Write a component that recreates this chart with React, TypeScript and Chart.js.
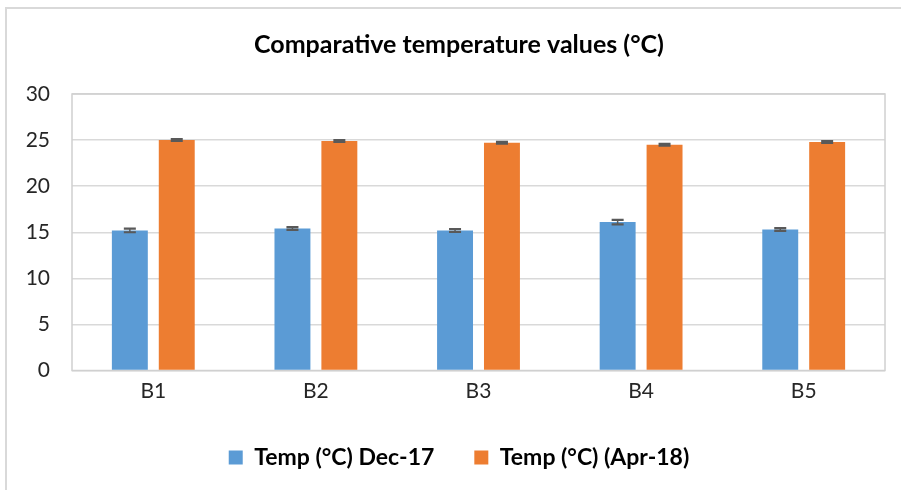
import React, { useEffect, useRef } from "react";
import { Chart, registerables } from "chart.js";

Chart.register(...registerables);

const categories = ["B1", "B2", "B3", "B4", "B5"];
const dec17Values = [15.2, 15.4, 15.2, 16.1, 15.3];
const dec17Errors = [0.2, 0.15, 0.15, 0.25, 0.15];
const apr18Values = [25.0, 24.9, 24.7, 24.5, 24.8];
const apr18Errors = [0.1, 0.1, 0.1, 0.1, 0.1];
const seriesLabels = ["Temp (°C) Dec-17", "Temp (°C) (Apr-18)"];
const yTicks = [0, 5, 10, 15, 20, 25, 30];
const titleText = "Comparative temperature values (°C)";

const FONT = "Lato";

const errorBarPlugin = {
  id: "errorBars",
  afterDatasetsDraw(chart: any) {
    const ctx = chart.ctx;
    const ys = chart.scales.y;
    chart.data.datasets.forEach((ds: any, i: number) => {
      const meta = chart.getDatasetMeta(i);
      const errs: number[] = ds.errors || [];
      meta.data.forEach((bar: any, j: number) => {
        const v = ds.data[j] as number;
        const e = errs[j] || 0;
        const x = bar.x;
        const yT = ys.getPixelForValue(v + e);
        const yB = ys.getPixelForValue(v - e);
        ctx.save();
        ctx.strokeStyle = "#595959";
        ctx.lineWidth = 1.5;
        ctx.beginPath();
        ctx.moveTo(x, yT);
        ctx.lineTo(x, yB);
        ctx.stroke();
        ctx.lineWidth = 2.2;
        ctx.beginPath();
        ctx.moveTo(x - 6, yT);
        ctx.lineTo(x + 6, yT);
        ctx.moveTo(x - 6, yB);
        ctx.lineTo(x + 6, yB);
        ctx.stroke();
        ctx.restore();
      });
    });
  },
};

const plotFramePlugin = {
  id: "plotFrame",
  afterLayout(chart: any) {
    // widen the y-axis label clip region so tick labels can sit in the left margin
    if (chart.scales.y) chart.scales.y.left = 0;
  },
  beforeDatasetsDraw(chart: any) {
    const { ctx, chartArea } = chart;
    ctx.save();
    ctx.strokeStyle = "#d0d0d0";
    ctx.lineWidth = 1.5;
    ctx.strokeRect(chartArea.left, chartArea.top, chartArea.right - chartArea.left, chartArea.bottom - chartArea.top);
    ctx.restore();
  },
};

export default function App() {
  const canvasRef = useRef<HTMLCanvasElement | null>(null);

  useEffect(() => {
    document.body.style.margin = "0";
    const canvas = canvasRef.current;
    if (!canvas) return;
    const chart = new Chart(canvas, {
      type: "bar",
      data: {
        labels: categories,
        datasets: [
          {
            label: seriesLabels[0],
            data: dec17Values,
            errors: dec17Errors,
            backgroundColor: "#5B9BD5",
            barPercentage: 0.766,
            categoryPercentage: 0.577,
          } as any,
          {
            label: seriesLabels[1],
            data: apr18Values,
            errors: apr18Errors,
            backgroundColor: "#ED7D31",
            barPercentage: 0.766,
            categoryPercentage: 0.577,
          } as any,
        ],
      },
      options: {
        responsive: false,
        animation: false,
        layout: { padding: { left: 33, right: 16, top: 20, bottom: 11 } },
        plugins: {
          title: {
            display: true,
            text: titleText,
            color: "#000",
            font: { family: FONT, size: 25, weight: "bold" },
            padding: { top: 10, bottom: 34 },
          },
          legend: {
            position: "bottom",
            labels: {
              boxWidth: 14,
              boxHeight: 14,
              padding: 40,
              color: "#000",
              font: { family: FONT, size: 23, weight: "bold" },
            },
          },
          tooltip: { enabled: false },
        },
        scales: {
          x: {
            grid: { display: false },
            border: { display: false },
            ticks: { color: "#262626", font: { family: FONT, size: 21 }, padding: 0 },
            afterFit: (s: any) => {
              s.height = 35.5;
            },
          },
          y: {
            min: 0,
            max: 30,
            grid: { color: "#d9d9d9", lineWidth: 1.5, drawTicks: false },
            border: { display: false },
            afterBuildTicks: (s: any) => {
              s.ticks = yTicks.map((v) => ({ value: v }));
            },
            ticks: { color: "#262626", font: { family: FONT, size: 21 }, padding: 22 },
            afterFit: (s: any) => {
              s.width = 39;
            },
          },
        },
      },
      plugins: [plotFramePlugin, errorBarPlugin],
    });
    return () => chart.destroy();
  }, []);

  return (
    <div style={{ position: "relative", width: 901, height: 490, overflow: "hidden", background: "#fff" }}>
      <div
        style={{
          position: "absolute",
          left: 5,
          top: 7,
          right: -5,
          bottom: -5,
          borderTop: "2px solid #d9d9d9",
          borderLeft: "2px solid #d9d9d9",
        }}
      />
      <canvas
        ref={canvasRef}
        width={901}
        height={490}
        style={{ position: "absolute", left: 0, top: 0, width: 901, height: 490 }}
      />
    </div>
  );
}
